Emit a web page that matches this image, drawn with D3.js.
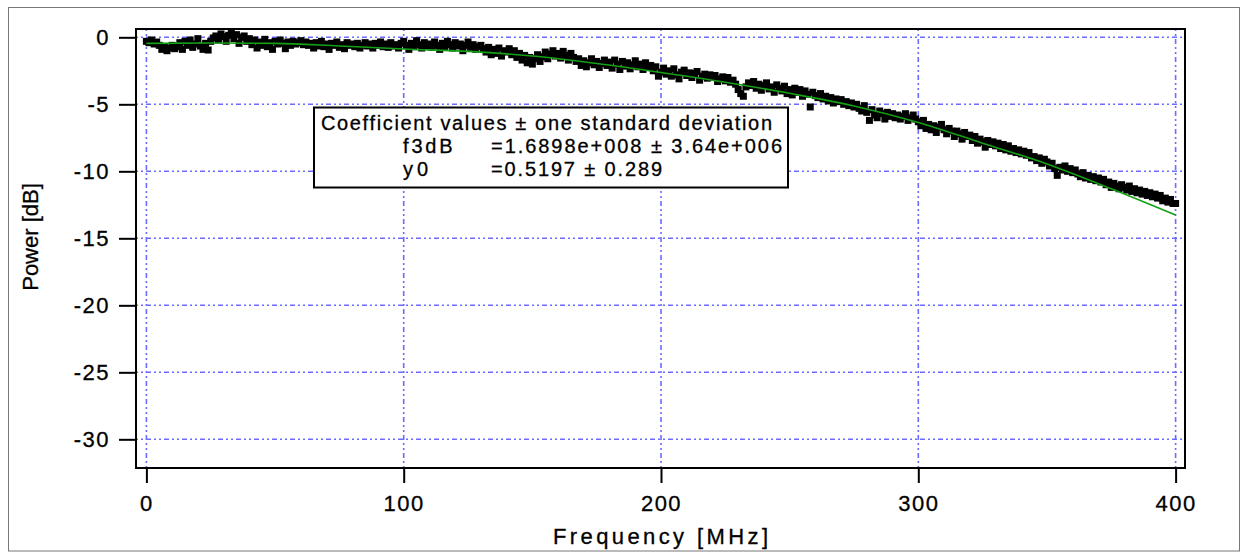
<!DOCTYPE html>
<html><head><meta charset="utf-8">
<script src="https://cdn.jsdelivr.net/npm/d3@7"></script>
<style>
html,body{margin:0;padding:0;background:#fff;}
svg{display:block;font-family:"Liberation Sans",Arial,sans-serif;}
text{fill:#000;stroke:#000;stroke-width:0.3px;}
</style>
</head><body>
<svg id="chart" width="1244" height="552"></svg>
<script>
// ---- data ----
const xTicks = [0, 100, 200, 300, 400];
const yTicks = [0, -5, -10, -15, -20, -25, -30];
const xTitle = "Frequency [MHz]";
const yTitle = "Power [dB]";
const freqStartMHz = 0, freqStepMHz = 1;
// measured power, one value per MHz, 0..400 MHz
const powerDb = [
 -0.3,-0.4,-0.2,-0.5,-0.35,-0.6,-0.9,-0.75,-1.0,-0.8,
 -0.6,-0.85,-0.7,-0.4,-0.9,-0.3,-0.6,-0.2,-0.75,-0.5,
 -0.1,-0.65,-0.9,-0.45,-0.95,-0.3,-0.05,0.1,-0.2,0.25,
 0.05,-0.3,0.15,0.3,-0.1,0.2,-0.45,0.0,0.1,-0.3,
 -0.1,-0.55,-0.2,-0.8,-0.35,-0.6,-0.15,-0.7,-0.4,-0.9,
 -0.3,-0.5,-0.2,-0.45,-0.85,-0.35,-0.6,-0.3,-0.5,-0.4,
 -0.25,-0.55,-0.35,-0.6,-0.45,-0.8,-0.4,-0.65,-0.3,-0.7,
 -0.5,-0.9,-0.45,-0.6,-0.35,-0.75,-0.55,-0.85,-0.4,-0.6,
 -0.5,-0.7,-0.45,-0.8,-0.6,-0.4,-0.65,-0.5,-0.8,-0.45,
 -0.6,-0.35,-0.7,-0.5,-0.75,-0.4,-0.65,-0.55,-0.8,-0.45,
 -0.3,-0.6,-0.9,-0.45,-0.7,-0.25,-0.55,-0.8,-0.4,-0.65,
 -0.5,-0.75,-0.35,-0.6,-0.9,-0.45,-0.7,-0.3,-0.55,-0.8,
 -0.4,-0.65,-0.5,-1.0,-0.6,-0.35,-0.75,-0.55,-0.9,-0.7,
 -0.6,-0.85,-1.1,-0.75,-1.3,-0.9,-1.2,-0.8,-1.4,-1.0,
 -1.1,-0.85,-1.3,-1.0,-1.5,-1.2,-1.7,-1.35,-1.9,-1.5,
 -2.0,-1.6,-1.3,-1.8,-1.45,-1.1,-1.6,-1.25,-1.0,-1.4,
 -1.2,-1.55,-1.05,-1.35,-1.7,-1.2,-1.5,-1.8,-1.6,-2.1,
 -1.75,-2.2,-1.9,-1.6,-2.05,-1.8,-2.25,-1.95,-1.7,-2.1,
 -1.85,-2.3,-1.7,-2.0,-2.4,-1.8,-2.15,-1.9,-2.35,-2.05,
 -1.75,-2.2,-2.0,-2.4,-1.9,-2.25,-2.1,-2.5,-2.2,-2.9,
 -2.6,-2.3,-2.75,-2.5,-2.9,-2.35,-2.8,-3.1,-2.6,-2.45,
 -2.85,-2.65,-3.0,-2.7,-2.55,-3.2,-2.9,-2.75,-3.05,-2.8,
 -3.0,-2.85,-3.3,-3.1,-2.95,-3.25,-3.0,-3.35,-3.2,-3.5,
 -3.9,-4.2,-4.4,-3.7,-3.4,-3.6,-3.3,-3.8,-3.5,-3.95,
 -3.6,-3.4,-3.85,-3.7,-4.1,-3.55,-3.8,-4.0,-3.65,-4.2,
 -3.9,-4.3,-3.8,-4.1,-3.9,-4.4,-4.0,-4.25,-5.2,-4.1,
 -4.35,-4.5,-4.2,-4.6,-4.4,-4.75,-4.5,-4.9,-4.6,-4.8,
 -4.65,-5.0,-4.8,-5.1,-4.9,-5.2,-5.0,-5.3,-5.5,-5.1,
 -5.6,-6.2,-5.4,-5.8,-6.0,-5.5,-5.7,-6.1,-5.6,-5.9,
 -5.7,-6.0,-5.8,-6.1,-5.9,-5.7,-6.2,-6.0,-5.8,-6.1,
 -6.3,-6.6,-6.2,-6.8,-6.5,-6.9,-6.6,-7.1,-6.7,-6.5,
 -6.9,-7.2,-6.8,-7.0,-7.4,-7.0,-7.2,-7.6,-7.1,-7.4,
 -7.3,-7.7,-7.4,-7.9,-7.6,-7.8,-8.2,-7.7,-8.0,-7.8,
 -8.1,-7.9,-8.3,-8.0,-8.4,-8.1,-8.5,-8.3,-8.6,-8.4,
 -8.7,-8.5,-8.8,-8.6,-9.0,-8.9,-9.2,-9.0,-9.4,-9.1,
 -9.3,-9.6,-9.4,-9.8,-10.3,-9.7,-9.9,-9.6,-10.0,-9.8,
 -10.1,-9.9,-10.2,-10.4,-10.1,-10.5,-10.3,-10.6,-10.4,-10.7,
 -10.5,-10.8,-10.6,-11.0,-10.8,-11.2,-10.9,-11.1,-11.3,-11.0,
 -11.2,-11.4,-11.1,-11.5,-11.3,-11.6,-11.4,-11.7,-11.5,-11.8,
 -11.6,-11.9,-11.7,-12.0,-11.8,-12.2,-12.0,-12.3,-12.1,-12.4,
 -12.4
];
// fitted curve
const fitFreqMHz = [0, 25, 50, 75, 100, 125, 150, 175, 200, 225, 250, 275, 300, 325, 350, 375, 400];
const fitPowerDb = [-0.45, -0.42, -0.45, -0.65, -0.87, -1.05, -1.4, -1.95, -2.62, -3.35, -4.18, -5.12, -6.35, -7.9, -9.45, -11.3, -13.26];
const legendTitle = "Coefficient values \u00b1 one standard deviation";
const coefNames = ["f3dB", "y0"];
const coefValues = ["=1.6898e+008 \u00b1 3.64e+006", "=0.5197 \u00b1 0.289"];

// ---- layout ----
const P = {left: 136, right: 1185, top: 29, bottom: 468};
const svg = d3.select("#chart");

const x = d3.scaleLinear().domain([-4.04, 403.65]).range([P.left, P.right]);
const y = d3.scaleLinear().domain([0.62, -32.14]).range([P.top, P.bottom]);

// outer frame
svg.append("rect").attr("x", 8.5).attr("y", 7.5).attr("width", 1231).attr("height", 543.5)
  .attr("fill", "none").attr("stroke", "#777").attr("stroke-width", 1);

// gridlines
const gridStyle = g => g.attr("stroke", "#6b6bff").attr("stroke-width", 1.6)
  .attr("stroke-dasharray", "2,3,2,3,5,3");
const grid = svg.append("g");
grid.selectAll(".gx").data(xTicks).join("line")
  .attr("x1", d => x(d)).attr("x2", d => x(d)).attr("y1", P.top).attr("y2", P.bottom)
  .call(gridStyle);
grid.selectAll(".gy").data(yTicks).join("line")
  .attr("x1", P.left).attr("x2", P.right).attr("y1", d => y(d)).attr("y2", d => y(d))
  .call(gridStyle);

// clip
svg.append("clipPath").attr("id", "clip").append("rect")
  .attr("x", P.left).attr("y", P.top).attr("width", P.right - P.left).attr("height", P.bottom - P.top);

const plot = svg.append("g").attr("clip-path", "url(#clip)");

// data points
const pts = powerDb.map((v, i) => ({f: freqStartMHz + i * freqStepMHz, p: v}));
const s = 7;
plot.selectAll("rect.pt").data(pts).join("rect").attr("class", "pt")
  .attr("x", d => x(d.f) - s / 2).attr("y", d => y(d.p) - s / 2)
  .attr("width", s).attr("height", s).attr("fill", "#000");

// fit line
const fit = fitFreqMHz.map((f, i) => [f, fitPowerDb[i]]);
plot.append("path").datum(fit)
  .attr("d", d3.line().x(d => x(d[0])).y(d => y(d[1])).curve(d3.curveMonotoneX))
  .attr("fill", "none").attr("stroke", "#14a014").attr("stroke-width", 1.6);

// frame
svg.append("rect").attr("x", P.left).attr("y", P.top)
  .attr("width", P.right - P.left).attr("height", P.bottom - P.top)
  .attr("fill", "none").attr("stroke", "#000").attr("stroke-width", 2);

// axes
const yAxis = d3.axisLeft(y).tickValues(yTicks).tickSize(17).tickPadding(9)
  .tickFormat(d => String(d));
const gy = svg.append("g").attr("transform", `translate(${P.left},0)`).call(yAxis);
const xAxis = d3.axisBottom(x).tickValues(xTicks).tickSize(15).tickPadding(12)
  .tickFormat(d => String(d));
const gx = svg.append("g").attr("transform", `translate(0,${P.bottom})`).call(xAxis);
[gx, gy].forEach(g => {
  g.select(".domain").remove();
  g.selectAll(".tick line").attr("stroke", "#000").attr("stroke-width", 2);
  g.selectAll(".tick text").attr("fill", "#000").attr("font-size", 22)
    .attr("font-family", "Liberation Sans, Arial, sans-serif").style("letter-spacing", "1.5px");
});

// axis titles
svg.append("text").attr("x", 553).attr("y", 544).attr("font-size", 22)
  .attr("textLength", 215).attr("lengthAdjust", "spacing").text(xTitle);
svg.append("text").attr("transform", "translate(38,237) rotate(-90)")
  .attr("text-anchor", "middle").attr("font-size", 22).text(yTitle);

// legend
const lg = svg.append("g");
lg.append("rect").attr("x", 314).attr("y", 107.5).attr("width", 474).attr("height", 80)
  .attr("fill", "#fff").attr("stroke", "#000").attr("stroke-width", 2);
lg.append("text").attr("x", 321).attr("y", 129.5).attr("font-size", 20)
  .attr("textLength", 451).attr("lengthAdjust", "spacing").text(legendTitle);
const nameW = [49.6, 25], valW = [291, 171];
coefNames.forEach((n, i) => {
  const by = 153.3 + i * 23;
  lg.append("text").attr("x", 403).attr("y", by).attr("font-size", 20)
    .attr("textLength", nameW[i]).attr("lengthAdjust", "spacing").text(n);
  lg.append("text").attr("x", 491).attr("y", by).attr("font-size", 20)
    .attr("textLength", valW[i]).attr("lengthAdjust", "spacing").text(coefValues[i]);
});
</script>
</body></html>
